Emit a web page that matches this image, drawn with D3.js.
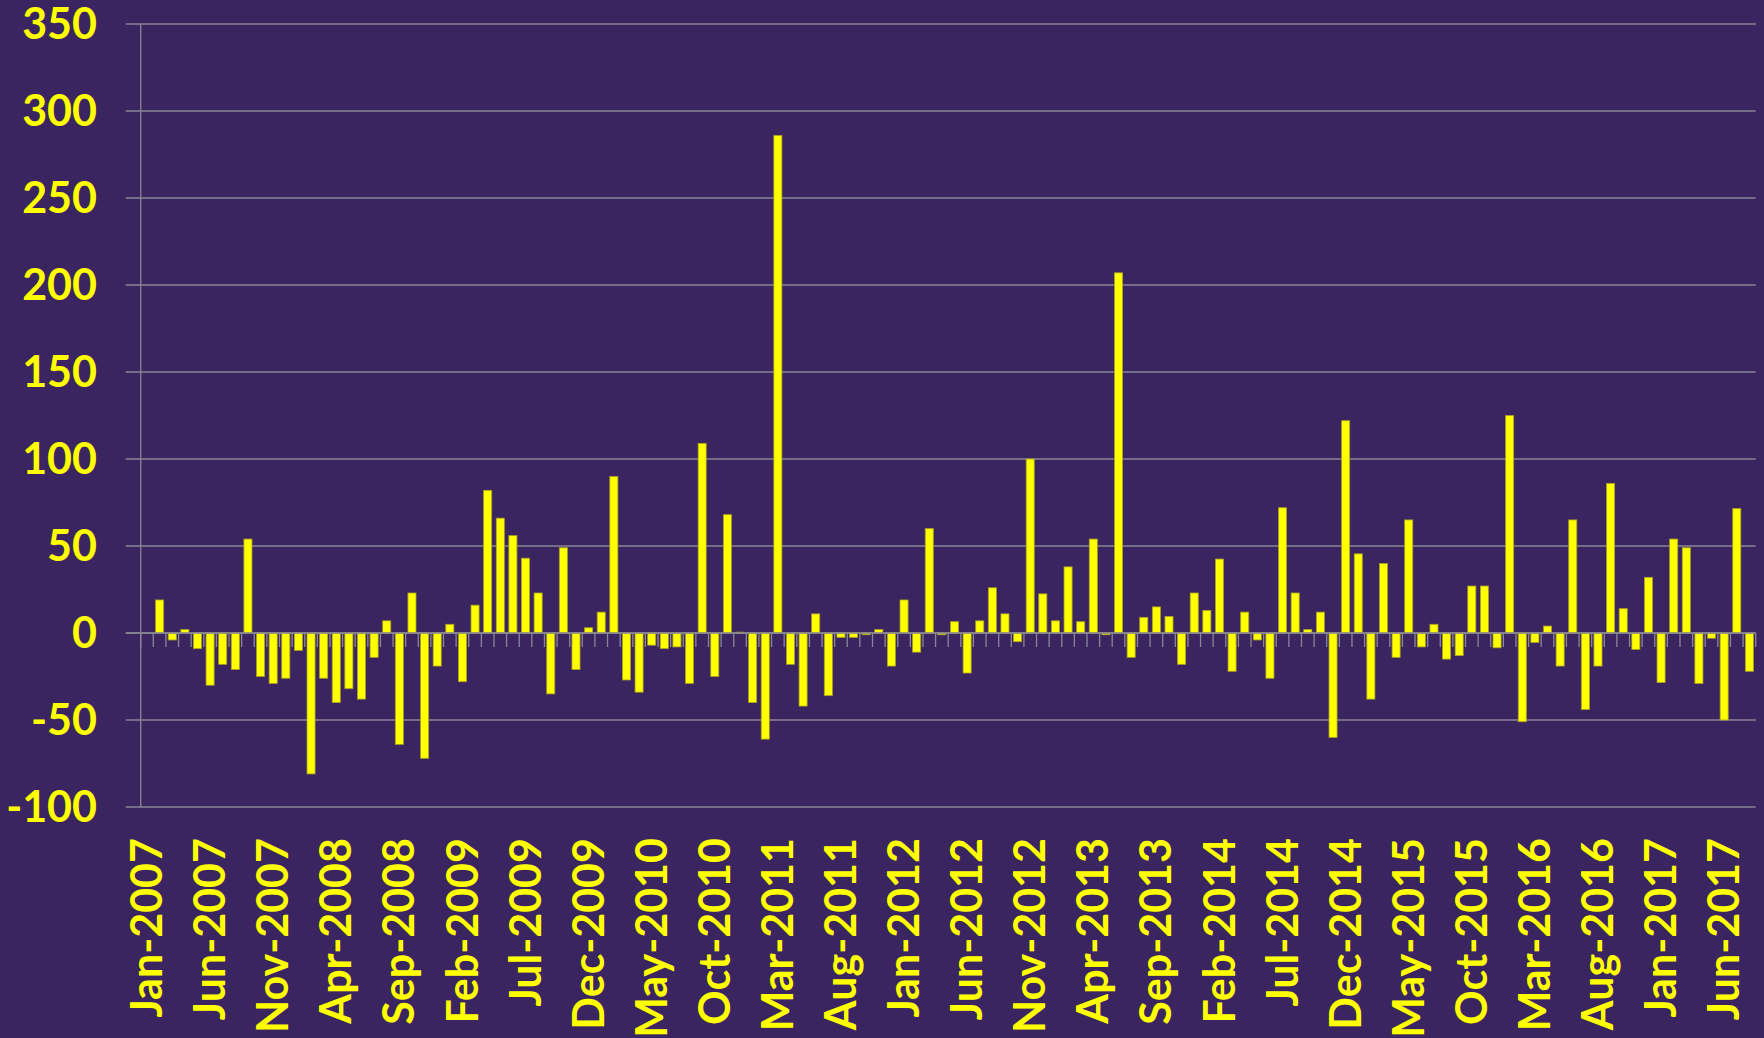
<!DOCTYPE html>
<html>
<head>
<meta charset="utf-8">
<script src="https://cdn.jsdelivr.net/npm/d3@7"></script>
<style>
  html, body { margin: 0; padding: 0; background: #3b2560; }
  svg { display: block; }
</style>
</head>
<body>
<div id="viz"></div>
<script>
// monthly values, Jan-2007 .. Aug-2017
const values = [
  0, 19, -4, 2, -9, -30, -18, -21, 54, -25, -29, -26,
  -10, -81, -26, -40, -32, -38, -14, 7, -64, 23, -72, -19,
  5, -28, 16, 82, 66, 56, 43, 23, -35, 49, -21, 3,
  12, 90, -27, -34, -7, -9, -8, -29, 109, -25, 68, 0.5,
  -40, -61, 286, -18, -42, 11, -36, -2.5, -2.5, -1, 2, -19,
  19, -11, 60, -1, 6.5, -23, 7, 26, 11, -5, 100, 22.5,
  7, 38, 6.5, 54, -1, 207, -14, 9, 15, 9.5, -18, 23,
  13, 42.5, -22, 12, -4, -26, 72, 23, 2, 12, -60, 122,
  45.5, -38, 40, -14, 65, -8, 5, -15, -13, 27, 27, -8.5,
  125, -51, -5.5, 4, -19, 65, -44, -19, 86, 14, -9.5, 32,
  -28.5, 54, 49, -29, -3, -50, 71.5, -22
];
const startMonth = new Date(2007, 0, 1);
const endMonth = new Date(2017, 8, 1);
const months = d3.timeMonth.range(startMonth, endMonth);
const fmt = d3.timeFormat("%b-%Y");
const categories = months.map(fmt);
const tickEvery = 5;
const yTicks = [-100, -50, 0, 50, 100, 150, 200, 250, 300, 350];

const W = 1764, H = 1038;
const plot = {left: 140.7, right: 1755.7, top: 24, bottom: 807};
const fontFam = "Lato, 'Open Sans', sans-serif";
const yellow = "#ffff00";
const gridCol = "#8a8694";

const svg = d3.select("#viz").append("svg")
  .attr("width", W).attr("height", H)
  .style("background", "#3b2560");

const x = d3.scaleBand()
  .domain(categories)
  .range([plot.left, plot.right])
  .paddingInner(0.36)
  .paddingOuter(0.18);

const y = d3.scaleLinear()
  .domain([-100, 350])
  .range([plot.bottom, plot.top]);

// gridlines + y labels
svg.append("g").selectAll("line")
  .data(yTicks)
  .join("line")
    .attr("x1", plot.left - 15).attr("x2", plot.right)
    .attr("y1", d => y(d)).attr("y2", d => y(d))
    .attr("stroke", gridCol).attr("stroke-width", 1.3);

svg.append("g").selectAll("text")
  .data(yTicks)
  .join("text")
    .attr("x", 97).attr("y", d => y(d))
    .attr("dy", "0.35em")
    .attr("text-anchor", "end")
    .attr("fill", yellow)
    .style("font-family", fontFam)
    .style("font-weight", "bold")
    .style("font-size", "43px")
    .text(d => d);

// vertical axis line
svg.append("line")
  .attr("x1", plot.left).attr("x2", plot.left)
  .attr("y1", plot.top).attr("y2", plot.bottom)
  .attr("stroke", gridCol).attr("stroke-width", 1.3);

// bars
const y0 = y(0);
svg.append("g").selectAll("rect")
  .data(values)
  .join("rect")
    .attr("x", (d, i) => x(categories[i]))
    .attr("width", x.bandwidth())
    .attr("y", d => Math.min(y(d), y0))
    .attr("height", d => Math.abs(y(d) - y0))
    .attr("fill", yellow)
    .attr("stroke", "#a8a020")
    .attr("stroke-width", 0.8);

// category tick marks on the zero line
const gap = (x.step() - x.bandwidth()) / 2;
const bounds = categories.map(c => x(c) - gap).concat([plot.right]);
svg.append("g").selectAll("line")
  .data(bounds)
  .join("line")
    .attr("x1", d => d).attr("x2", d => d)
    .attr("y1", y0).attr("y2", y0 + 14)
    .attr("stroke", gridCol).attr("stroke-width", 1.3);

svg.append("line")
  .attr("x1", plot.left - 15).attr("x2", plot.right)
  .attr("y1", y0).attr("y2", y0)
  .attr("stroke", gridCol).attr("stroke-width", 1.3);

// x labels, every 5th month, rotated
const labelCats = categories.filter((c, i) => i % tickEvery === 0);
svg.append("g").selectAll("text")
  .data(labelCats)
  .join("text")
    .attr("transform", d => "translate(" + (x(d) + x.bandwidth() / 2) + ",838) rotate(-90)")
    .attr("dy", "0.35em")
    .attr("text-anchor", "end")
    .attr("fill", yellow)
    .style("font-family", fontFam)
    .style("font-weight", "bold")
    .style("font-size", "43px")
    .text(d => d);
</script>
</body>
</html>
